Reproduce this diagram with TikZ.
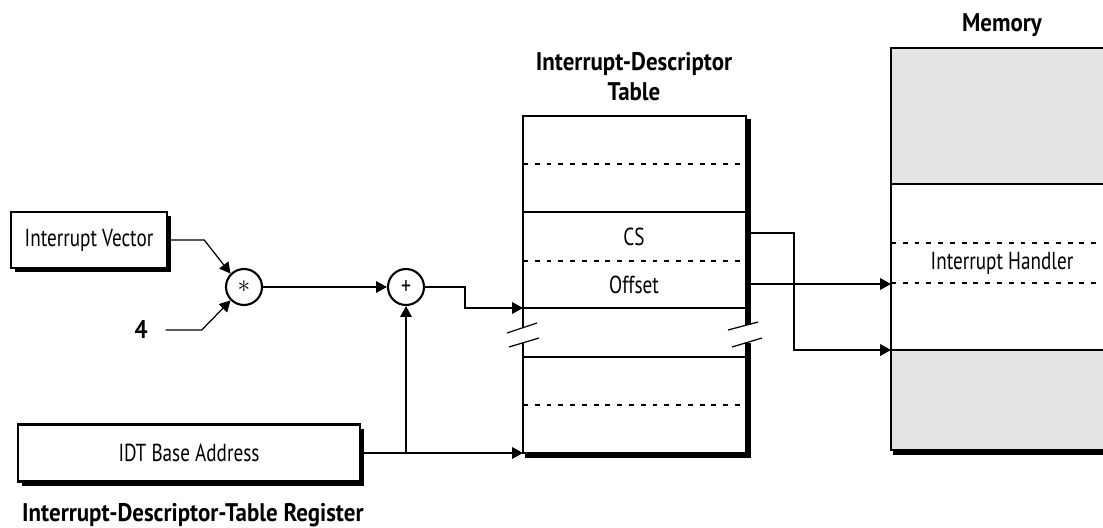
\documentclass[tikz,border=0pt]{standalone}
\usepackage{fontspec}
\setmainfont[FakeStretch=0.78]{PT Sans}
\newfontfamily\titlefont[FakeStretch=0.9]{PT Sans}
\usepackage{tikz}
\usetikzlibrary{arrows.meta,positioning,calc,shadows}
\definecolor{memGray}{HTML}{E4E4E4}

\tikzset{
  regbox/.style={draw, line width=1.4pt, fill=white, inner sep=0pt,
    general shadow={fill=black, shadow xshift=2.4pt, shadow yshift=-2.4pt}},
  opnode/.style={circle, draw, line width=1.2pt, fill=white, minimum size=7.2mm, inner sep=0pt},
  titlelbl/.style={font=\fontsize{14.5}{17}\selectfont\titlefont\bfseries},
  outline/.style={line width=1.5pt},
  rowline/.style={line width=0.7pt},
  dashrow/.style={line width=0.7pt, dash pattern=on 2.8pt off 3.9pt},
  conn/.style={line width=0.7pt, -{Triangle[length=6.2pt,width=6.6pt]}}
}

\begin{document}
\begin{tikzpicture}[x=0.2mm, y=-0.2mm, font=\fontsize{14}{17}\selectfont]
\clip (0,0) rectangle (1103,527);

% IDT table
\fill (746,119) rectangle (750.5,325);
\fill (746,343) rectangle (750.5,457.5);
\fill (525,453) rectangle (750.5,457.5);
\draw[outline] (523,328) -- (523,116) -- (746,116) -- (746,325);
\draw[outline] (523,343) -- (523,453) -- (746,453) -- (746,343);
\foreach \y in {212,308,357}
  \draw[rowline] (523,\y) -- (746,\y);
\foreach \y in {164,261,405}
  \draw[dashrow] (523,\y) -- (746,\y);
% break marks
\draw[rowline] (507,333) -- (537,323);
\draw[rowline] (509,347) -- (539,338);
\draw[rowline] (728,330) -- (758,322);
\draw[rowline] (732,347) -- (762,338);
\node[titlelbl, align=center] (idtlbl) at (634,77) {Interrupt-Descriptor\\Table};
\node (cslbl) at (634,237) {CS};
\node (offlbl) at (634,285) {Offset};

% Memory
\fill[memGray] (891,48) rectangle (1113,184);
\fill[memGray] (891,350) rectangle (1113,450);
\fill (893,450) rectangle (1113,455);
\draw[outline] (891,450) -- (891,48) -- (1113,48) -- (1113,450) -- cycle;
\draw[outline] (891,184) -- (1113,184);
\draw[outline] (891,350) -- (1113,350);
\foreach \y in {243,283}
  \draw[dashrow] (891,\y) -- (1113,\y);
\node[titlelbl] (memlbl) at (1002,25) {Memory};
\node (ihlbl) at (1002,263) {Interrupt Handler};

% register side
\node[regbox, minimum width=31.2mm, minimum height=11.2mm] (ivec) at (89,240) {Interrupt Vector};
\node[titlelbl] (four) at (141,330) {4};
\node[opnode] (mul) at (244,287) {\Large$\ast$};
\node[opnode] (add) at (406,287) {\Large +};
\node[regbox, minimum width=68.4mm, minimum height=11.4mm] (base) at (189,453) {IDT Base Address};
\node[titlelbl, anchor=west] (idtrlbl) at (16,515) {Interrupt-Descriptor-Table Register};

\coordinate (idtin) at (523,308);
\coordinate (idtbase) at (523,453);
\coordinate (csout) at (750,233);
\coordinate (offout) at (750,284);
\coordinate (memoff) at (891,284);
\coordinate (memcs) at (891,350);

% connectors
\draw[conn] (ivec.east) -- ++(36,0) -- (mul.135);
\draw[conn] (four.east) ++(12,0) -- ++(36,0) -- (mul.225);
\draw[conn] (mul) -- (add);
\draw[conn] (add.east) -- ++(40,0) |- (idtin);
\draw[conn] (base.east) -- (idtbase);
\draw[conn] (base.east -| add.south) -- (add.south);
\draw[conn] (csout) -- ++(44,0) |- (memcs);
\draw[conn] (offout) -- (memoff);
\end{tikzpicture}
\end{document}
